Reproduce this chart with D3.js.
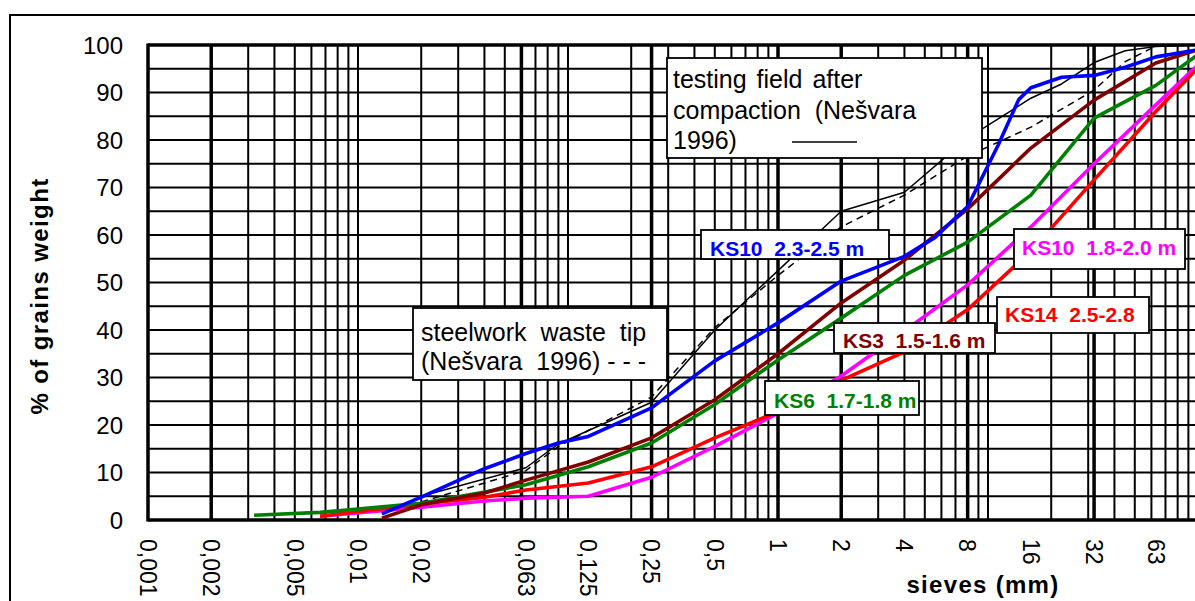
<!DOCTYPE html>
<html><head><meta charset="utf-8">
<script src="https://cdn.jsdelivr.net/npm/d3@7"></script>
<style>
body{margin:0;background:#fff}
svg{display:block}
text{font-family:"Liberation Sans",Arial,sans-serif}
</style>
</head><body>
<svg id="chart" width="1195" height="601"></svg>
<script>
// ---------- data ----------
const xTickValues = [0.001,0.002,0.005,0.01,0.02,0.063,0.125,0.25,0.5,1,2,4,8,16,32,63];
const xTickLabels = ["0,001","0,002","0,005","0,01","0,02","0,063","0,125","0,25","0,5","1","2","4","8","16","32","63"];
const yTickValues = [0,10,20,30,40,50,60,70,80,90,100];
const thickSieves = [0.002,0.06,0.25,1,2,8,32];

// KS10 2.3-2.5 m (blue)
const ks10aSize = [0.013,0.02,0.04,0.063,0.09,0.125,0.25,0.5,1,2,4,5.6,8,11.2,14,16,22.4,32,45,63,100];
const ks10aPct  = [1.3,4.8,10.8,14.0,16.2,17.6,23.6,33.5,41.5,50.3,55.5,59.5,66,79,88.5,91,93.2,93.6,95.3,97.5,99];
// KS3 1.5-1.6 m (dark red)
const ks3Size = [0.013,0.02,0.04,0.063,0.125,0.25,0.5,1,2,4,8,16,32,63,100];
const ks3Pct  = [0.4,3.2,5.7,8.4,12.2,17.3,25.3,35,45.7,54.7,65.5,78.3,88.4,96.2,99];
// KS6 1.7-1.8 m (green)
const ks6Size = [0.0032,0.0066,0.02,0.063,0.125,0.25,0.5,1,2,4,8,16,32,63,100];
const ks6Pct  = [1.0,1.6,3.5,7.4,11.2,16.2,24.3,33.7,42.5,51.5,58.5,68.4,84.6,91.5,98];
// KS10 1.8-2.0 m (magenta)
const ks10bSize = [0.0066,0.02,0.04,0.063,0.125,0.25,0.5,1,2,4,8,16,32,63,100];
const ks10bPct  = [0.8,2.7,4.0,4.6,5.0,9.0,15.5,22.5,30.3,39.8,49.5,61.7,75,87.4,95.8];
// KS14 2.5-2.8 (red)
const ks14Size = [0.0066,0.02,0.04,0.063,0.125,0.25,0.5,1,2,4,8,16,32,63,100];
const ks14Pct  = [0.8,3.4,4.8,6.3,7.8,11.2,17.3,22.8,29.4,35.4,44.3,56.6,71.6,86,95.2];
// testing field after compaction (Nešvara 1996) – solid
const fieldSize = [0.02,0.063,0.09,0.25,0.5,1,2,4,8,16,22.4,32,45,63,100];
const fieldPct  = [5,11,16,24.8,40,52.5,65,69,80.4,88.8,91.8,96.3,98.8,99.7,100];
// steelwork waste tip (Nešvara 1996) – dashed
const tipSize = [0.02,0.063,0.09,0.25,0.5,1,2,4,8,16,32,45,63,100];
const tipPct  = [3.8,10.4,15.5,25.9,40.5,51.5,61.7,68.4,76.6,82.7,90.5,96.5,99.8,100];

const seriesList = [
  {size: fieldSize, pct: fieldPct, color:"#000", w:1.5, dash:null},
  {size: tipSize,   pct: tipPct,   color:"#000", w:1.5, dash:"7,5"},
  {size: ks10bSize, pct: ks10bPct, color:"#FF00FF", w:3.6},
  {size: ks14Size,  pct: ks14Pct,  color:"#FF0000", w:3.6},
  {size: ks6Size,   pct: ks6Pct,   color:"#008000", w:3.6},
  {size: ks3Size,   pct: ks3Pct,   color:"#800000", w:3.6},
  {size: ks10aSize, pct: ks10aPct, color:"#0000FF", w:3.6}
];

const labels = [
  {text:"KS10  2.3-2.5 m", color:"#0000FF", box:[701,230,188,29], tx:710, ty:256},
  {text:"KS10  1.8-2.0 m", color:"#FF00FF", box:[1014,229,171,40], tx:1022, ty:255},
  {text:"KS14  2.5-2.8",   color:"#FF0000", box:[997,297,152,36], tx:1005, ty:322},
  {text:"KS3  1.5-1.6 m",  color:"#800000", box:[834,323,161,30], tx:843, ty:348},
  {text:"KS6  1.7-1.8 m",  color:"#008000", box:[765,381,154,34], tx:774, ty:408}
];

// ---------- drawing ----------
(function(){
const svg = d3.select("#chart");
const W = 1195;
const pLeft = 148, pTop = 45, pBottom = 520;
const x = d3.scaleLog().domain([0.001, 100]).range([148, 1198]);
const y = d3.scaleLinear().domain([0, 100]).range([pBottom, pTop]);

// outer frame
svg.append("rect").attr("x",10).attr("y",15).attr("width",1300).attr("height",700)
  .attr("fill","#fff").attr("stroke","#000").attr("stroke-width",2);

const g = svg.append("g");
svg.append("clipPath").attr("id","plotclip").append("rect")
  .attr("x",pLeft).attr("y",pTop-2).attr("width",W-pLeft).attr("height",pBottom-pTop+4);

// horizontal grid every 5 %
d3.range(0,101,5).forEach(v=>{
  g.append("line").attr("x1",pLeft).attr("x2",W).attr("y1",y(v)).attr("y2",y(v))
   .attr("stroke","#000").attr("stroke-width",2);
});
// vertical log grid
const minor = [];
[0.001,0.01,0.1,1,10].forEach(dec=>{ for(let k=1;k<=9;k++){ minor.push(dec*k); } });
minor.forEach(v=>{
  const isThick = thickSieves.some(t=>Math.abs(Math.log10(t)-Math.log10(v))<0.01);
  if(isThick) return;
  g.append("line").attr("x1",x(v)).attr("x2",x(v)).attr("y1",pTop).attr("y2",pBottom)
   .attr("stroke","#000").attr("stroke-width",2);
});
thickSieves.forEach(v=>{
  g.append("line").attr("x1",x(v)).attr("x2",x(v)).attr("y1",pTop).attr("y2",pBottom)
   .attr("stroke","#000").attr("stroke-width",3.5);
});
// plot border
g.append("line").attr("x1",pLeft).attr("x2",W).attr("y1",pTop).attr("y2",pTop).attr("stroke","#000").attr("stroke-width",3.5);
g.append("line").attr("x1",pLeft).attr("x2",W).attr("y1",pBottom).attr("y2",pBottom).attr("stroke","#000").attr("stroke-width",3.5);
g.append("line").attr("x1",pLeft).attr("x2",pLeft).attr("y1",pTop-1.5).attr("y2",pBottom+1.5).attr("stroke","#000").attr("stroke-width",3.5);

// y ticks
yTickValues.forEach(v=>{
  svg.append("text").attr("x",123).attr("y",y(v)).attr("dy","0.36em")
    .attr("text-anchor","end").attr("font-size",24).text(v);
});
// x ticks (rotated)
xTickValues.forEach((v,i)=>{
  svg.append("text").attr("transform",`translate(${x(v)},539) rotate(90)`)
    .attr("dy","0.36em").attr("text-anchor","start").attr("font-size",23).text(xTickLabels[i]);
});

// axis titles
svg.append("text").attr("transform","translate(48,296) rotate(-90)")
  .attr("text-anchor","middle").attr("font-size",24).attr("font-weight","bold")
  .attr("letter-spacing",1.4).text("% of grains weight");
svg.append("text").attr("x",983).attr("y",593)
  .attr("text-anchor","middle").attr("font-size",24).attr("font-weight","bold")
  .attr("letter-spacing",1.3).text("sieves (mm)");

// curves
const lineGen = d3.line().x(d=>x(d[0])).y(d=>y(d[1]));
const lines = svg.append("g").attr("clip-path","url(#plotclip)");
seriesList.forEach(s=>{
  const pts = s.size.map((d,i)=>[d, s.pct[i]]);
  const p = lines.append("path").attr("d",lineGen(pts)).attr("fill","none")
    .attr("stroke",s.color).attr("stroke-width",s.w).attr("stroke-linejoin","round");
  if(s.dash) p.attr("stroke-dasharray",s.dash);
});

// annotation boxes
function box(xx,yy,w,h){
  svg.append("rect").attr("x",xx).attr("y",yy).attr("width",w).attr("height",h)
    .attr("fill","#fff").attr("stroke","#000").attr("stroke-width",1.8);
}
box(667,58,315,100);
[["testing field after",88,3],["compaction  (Nešvara",119,0],["1996)",149,0]].forEach(([t,yy,ws])=>{
  svg.append("text").attr("x",673).attr("y",yy).attr("font-size",25)
    .attr("word-spacing",ws).style("white-space","pre").text(t);
});
svg.append("line").attr("x1",792).attr("x2",857).attr("y1",142).attr("y2",142)
  .attr("stroke","#000").attr("stroke-width",1.5);

box(413,308,254,72);
[["steelwork  waste  tip",341],["(Nešvara  1996) - - -",370]].forEach(([t,yy])=>{
  svg.append("text").attr("x",421).attr("y",yy).attr("font-size",25)
    .style("white-space","pre").text(t);
});

labels.forEach(l=>{
  box(...l.box);
  svg.append("text").attr("x",l.tx).attr("y",l.ty).attr("font-size",21)
    .attr("font-weight","bold").attr("fill",l.color).style("white-space","pre").text(l.text);
});
})();
</script>
</body></html>
